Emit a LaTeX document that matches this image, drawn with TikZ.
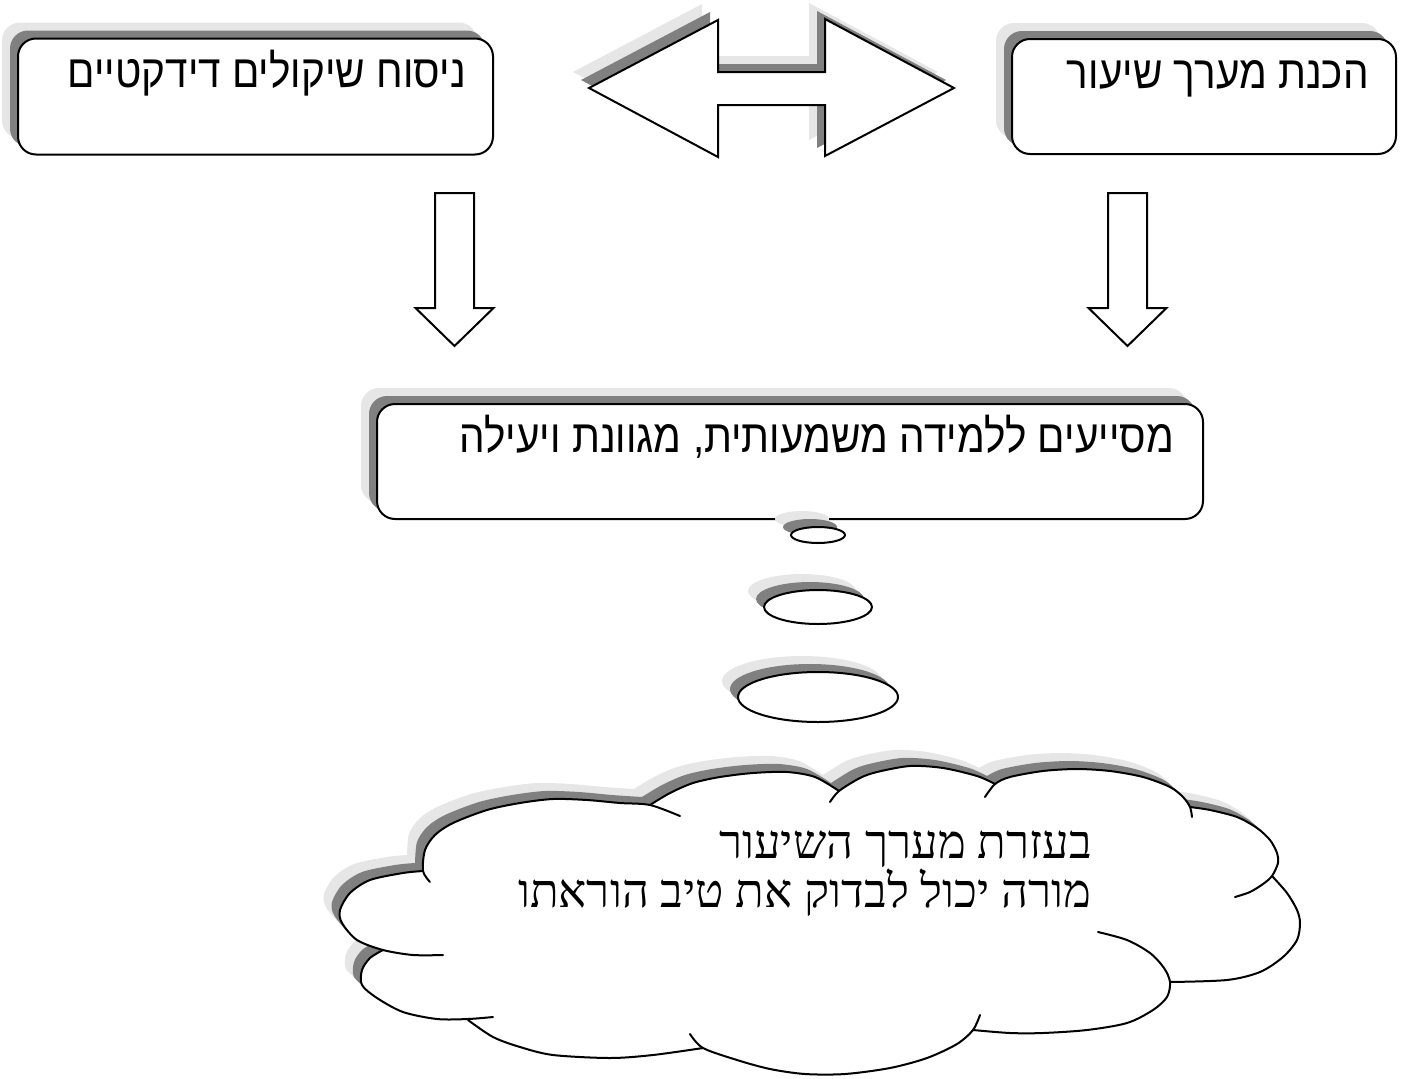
\documentclass[tikz,border=0pt]{standalone}
\usepackage{fontspec}
\usetikzlibrary{shapes.geometric,shadows,positioning}
\TeXXeTstate=1
\newfontfamily\hebsans[Script=Hebrew,FakeStretch=0.88]{Liberation Sans}
\newfontfamily\hebserif[Script=Hebrew]{Liberation Serif}
\definecolor{shadowdark}{RGB}{128,128,128}
\definecolor{shadowlight}{RGB}{230,230,230}
\tikzset{
  twoshadow/.style={general shadow={fill=shadowlight,shadow xshift=-16pt,shadow yshift=16pt},
    general shadow={fill=shadowdark,shadow xshift=-8pt,shadow yshift=8pt}},
  box/.style={draw,fill=white,rounded corners=18pt,line width=2pt,inner sep=0pt,twoshadow},
  boxtext/.style={font=\hebsans\fontsize{46}{52}\selectfont,inner sep=0pt,anchor=base east},
  bubble/.style={ellipse,draw,fill=white,line width=2pt,inner sep=0pt,twoshadow},
  blockarrow/.style={draw,fill=white,line width=2pt,line join=miter},
  cloudtext/.style={font=\hebserif\fontsize{47}{49}\selectfont,inner sep=0pt,align=right,anchor=base east},
}
\begin{document}
\begin{tikzpicture}[x=1pt,y=-1pt,line join=round,line cap=round]
\useasboundingbox (0,0) rectangle (1403,1079);
% boxes
\node[box,minimum width=475pt,minimum height=116pt] (consider) at (255.5,96.5) {};
\node[box,minimum width=384pt,minimum height=115pt] (prepare) at (1204,96.5) {};
\node[box,minimum width=826pt,minimum height=115pt] (assist) at (790,461.5) {};
\node[boxtext] (considertext) at ([shift={(-28,50)}]consider.north east) {\beginR ניסוח שיקולים דידקטיים\endR};
\node[boxtext] (preparetext) at ([shift={(-28,50)}]prepare.north east) {\beginR הכנת מערך שיעור\endR};
\node[boxtext] (assisttext) at ([shift={(-30,49)}]assist.north east) {\beginR מסייעים ללמידה משמעותית, מגוונת ויעילה\endR};
% double arrow
\draw[blockarrow,twoshadow] (589,88) -- (718,20) -- (718,72) -- (825,72) -- (825,19) -- (954,88)
  -- (825,156) -- (825,105) -- (718,105) -- (718,157) -- cycle;
% down arrows
\foreach \cx in {454.5,1127.5}
  \draw[blockarrow] (\cx-19.5,193) -- (\cx+19.5,193) -- (\cx+19.5,308) -- (\cx+39,308)
    -- (\cx,346) -- (\cx-39,308) -- (\cx-19.5,308) -- cycle;
% thought bubbles
\node[bubble,minimum width=54pt,minimum height=16pt] (puff1) at (818,535) {};
\node[bubble,minimum width=108pt,minimum height=34pt] (puff2) at (818,607) {};
\node[bubble,minimum width=160pt,minimum height=50pt] (puff3) at (818,697) {};
% cloud
\path[fill=white,twoshadow]
  plot[smooth] coordinates {(423,871) (425,850) (435,835) (453,823) (487,810) (520,803) (553,799) (587,800) (620,803) (650,805)}
  -- plot[smooth] coordinates {(650,805) (670,793) (693,783) (720,777) (753,773) (787,772) (815,777) (839,791)}
  -- plot[smooth] coordinates {(839,791) (860,778) (877,772) (910,766) (943,768) (977,776) (995,784)}
  -- plot[smooth] coordinates {(995,784) (1010,777) (1043,771) (1077,769) (1110,771) (1143,777) (1170,787) (1183,797) (1190,807)}
  -- plot[smooth] coordinates {(1190,807) (1210,810) (1237,817) (1257,828) (1270,840) (1277,853) (1278,863) (1272,876)}
  -- plot[smooth] coordinates {(1272,876) (1287,893) (1297,910) (1300,923) (1297,940) (1283,957) (1260,972) (1227,980) (1170,982)}
  -- plot[smooth] coordinates {(1170,982) (1167,997) (1153,1010) (1127,1023) (1087,1030) (1043,1033) (1010,1033) (973,1030)}
  -- plot[smooth] coordinates {(973,1030) (957,1044) (927,1058) (890,1068) (845,1074) (805,1074) (770,1069) (737,1060) (703,1048)}
  -- plot[smooth] coordinates {(703,1048) (653,1055) (610,1058) (553,1055) (520,1047) (493,1037) (468,1020)}
  -- plot[smooth] coordinates {(468,1019) (437,1019) (403,1012) (377,998) (362,985) (362,970) (370,958) (383,950)}
  -- plot[smooth] coordinates {(383,950) (357,940) (342,923) (340,910) (350,893) (370,880) (403,873) (423,871)}
  -- cycle;
\begin{scope}[line width=2pt]
\draw plot[smooth] coordinates {(430,882) (423,871) (425,850) (435,835) (453,823) (487,810) (520,803) (553,799) (587,800) (620,803) (650,805) (680,816)};
\draw plot[smooth] coordinates {(650,805) (670,793) (693,783) (720,777) (753,773) (787,772) (815,777) (839,791)};
\draw plot[smooth] coordinates {(830,802) (839,791) (860,778) (877,772) (910,766) (943,768) (977,776) (995,784)};
\draw plot[smooth] coordinates {(985,797) (995,784) (1010,777) (1043,771) (1077,769) (1110,771) (1143,777) (1170,787) (1183,797) (1190,807) (1192,817)};
\draw plot[smooth] coordinates {(1190,807) (1210,810) (1237,817) (1257,828) (1270,840) (1277,853) (1278,863) (1272,876) (1263,884) (1250,892) (1235,897)};
\draw plot[smooth] coordinates {(1272,876) (1287,893) (1297,910) (1300,923) (1297,940) (1283,957) (1260,972) (1227,980) (1170,982)};
\draw plot[smooth] coordinates {(1098,932) (1127,940) (1150,953) (1164,968) (1170,982) (1167,997) (1153,1010) (1127,1023) (1087,1030) (1043,1033) (1010,1033) (973,1030)};
\draw plot[smooth] coordinates {(980,1015) (973,1030) (957,1044) (927,1058) (890,1068) (845,1074) (805,1074) (770,1069) (737,1060) (703,1048) (690,1034)};
\draw plot[smooth] coordinates {(703,1048) (653,1055) (610,1058) (553,1055) (520,1047) (493,1037) (468,1020)};
\draw plot[smooth] coordinates {(493,1017) (468,1019) (437,1019) (403,1012) (377,998) (362,985) (362,970) (370,958) (383,950)};
\draw plot[smooth] coordinates {(423,871) (403,873) (370,880) (350,893) (340,910) (342,923) (357,940) (383,950) (413,955) (443,955)};
\end{scope}
\node[cloudtext] (cloudmsg) at (1092,907) {\beginR בעזרת מערך השיעור\endR\\\beginR מורה יכול לבדוק את טיב הוראתו\endR};
\end{tikzpicture}
\end{document}
